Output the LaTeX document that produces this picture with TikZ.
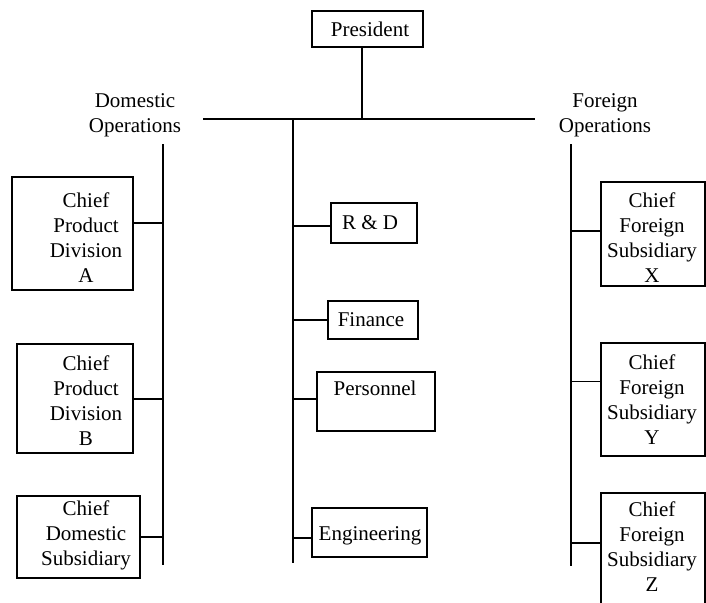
\documentclass[tikz,border=0pt]{standalone}
\usepackage{fontspec}
\setmainfont{Liberation Serif}
\begin{document}
\begin{tikzpicture}[x=1pt,y=-1pt,
  box/.style={draw, line width=1.6pt, inner sep=0pt},
  lbl/.style={align=center, font=\fontsize{21}{25}\selectfont, inner sep=0pt},
  link/.style={line width=1.6pt},
  thinlink/.style={line width=0.9pt}]
\useasboundingbox (0,0) rectangle (706,602);

% ---- boxes ----
\node[box, minimum width=111pt, minimum height=36pt] (pres) at (367.5,29) {};
\node[box, minimum width=121pt, minimum height=113pt] (divA) at (72.5,233.5) {};
\node[box, minimum width=116pt, minimum height=109pt] (divB) at (75,398.5) {};
\node[box, minimum width=123pt, minimum height=82pt] (dsub) at (78.5,537) {};
\node[box, minimum width=86pt, minimum height=40pt] (rd) at (374,223) {};
\node[box, minimum width=90pt, minimum height=38pt] (fin) at (373,320) {};
\node[box, minimum width=118pt, minimum height=59pt] (pers) at (376,401.5) {};
\node[box, minimum width=115pt, minimum height=49pt] (eng) at (369.5,532.5) {};
\node[box, minimum width=104pt, minimum height=104pt] (subX) at (653,234) {};
\node[box, minimum width=104pt, minimum height=113pt] (subY) at (653,399.5) {};
\node[box, minimum width=104pt, minimum height=116pt] (subZ) at (653,551) {};

% ---- texts ----
\node[lbl] (tpres) at (370,29) {President};
\node[lbl] (tdom) at (135,115.5) {Domestic\\Operations};
\node[lbl] (tfor) at (605,115.5) {Foreign\\Operations};
\node[lbl] (tA) at (86,237.5) {Chief\\Product\\Division\\A};
\node[lbl] (tB) at (86,401) {Chief\\Product\\Division\\B};
\node[lbl] (tDS) at (86,535) {Chief\\Domestic\\Subsidiary};
\node[lbl] (tRD) at (370,223) {R \& D};
\node[lbl] (tFin) at (371,320) {Finance};
\node[lbl] (tPer) at (375,388) {Personnel};
\node[lbl] (tEng) at (370,536) {Engineering};
\node[lbl] (tX) at (652,237.5) {Chief\\Foreign\\Subsidiary\\X};
\node[lbl] (tY) at (652,400) {Chief\\Foreign\\Subsidiary\\Y};
\node[lbl] (tZ) at (652,547) {Chief\\Foreign\\Subsidiary\\Z};

% ---- trunk lines ----
\coordinate (busL) at (203,119);
\coordinate (busR) at (535,119);
\coordinate (stem) at (362,119);
\coordinate (mtop) at (293,119);
\coordinate (mbot) at (293,563);
\coordinate (ltop) at (163,144);
\coordinate (lbot) at (163,565);
\coordinate (rtop) at (571,144);
\coordinate (rbot) at (571,566);

\draw[link] (busL) -- (busR);
\draw[link] (pres.south -| stem) -- (stem);
\draw[link] (mtop) -- (mbot);
\draw[link] (ltop) -- (lbot);
\draw[link] (rtop) -- (rbot);

% ---- branch junctions ----
\coordinate (jA) at (163,223);
\coordinate (jB) at (163,399);
\coordinate (jDS) at (163,537);
\coordinate (jRD) at (293,226);
\coordinate (jFin) at (293,320);
\coordinate (jPer) at (293,399);
\coordinate (jEng) at (293,538);
\coordinate (jX) at (571,231);
\coordinate (jY) at (571,381);
\coordinate (jZ) at (571,543);

\draw[link] (jA) -- (jA -| divA.east);
\draw[link] (jB) -- (jB -| divB.east);
\draw[link] (jDS) -- (jDS -| dsub.east);
\draw[link] (jRD) -- (jRD -| rd.west);
\draw[link] (jFin) -- (jFin -| fin.west);
\draw[link] (jPer) -- (jPer -| pers.west);
\draw[link] (jEng) -- (jEng -| eng.west);
\draw[link] (jX) -- (jX -| subX.west);
\draw[thinlink] (jY) -- (jY -| subY.west);
\draw[link] (jZ) -- (jZ -| subZ.west);
\end{tikzpicture}
\end{document}
